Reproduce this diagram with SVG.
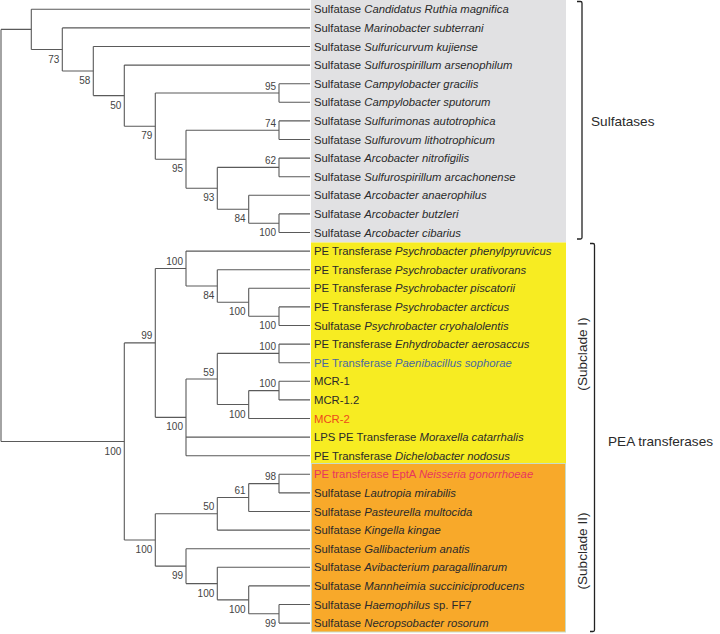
<svg xmlns="http://www.w3.org/2000/svg" width="720" height="634" viewBox="0 0 720 634">
<style>
.t{stroke:#5a5a5a;stroke-width:1.1;fill:none}
.lf{font-family:"Liberation Sans",Arial,sans-serif;font-size:11.3px;fill:#2a2a2a}
.i{font-style:italic}
.bs{font-family:"Liberation Sans",Arial,sans-serif;font-size:10px;fill:#444;text-anchor:end}
.br{stroke:#222;stroke-width:1.3;fill:none}
.big{font-family:"Liberation Sans",Arial,sans-serif;font-size:13.6px;fill:#2a2a2a}
</style>
<rect width="720" height="634" fill="#fff"/>
<g id="backgrounds">
<rect x="311" y="0" width="255" height="242.5" fill="#e1e1e3"/>
<rect x="311" y="242.5" width="255" height="221" fill="#f7ec22"/>
<rect x="311.5" y="463.5" width="254" height="168.5" fill="#f8a92a" stroke="#c9dcc8" stroke-width="1"/>
</g>
<g id="connectors">
<!-- root -->
<path class="t" d="M1,29.4V441.45M1,29.4H31.3M1,441.45H124.3"/>
<!-- sulfatase clade -->
<path class="t" d="M31.3,9.3V49.5M31.3,9.3H310M31.3,49.5H62.3"/>
<path class="t" d="M62.3,27.9V71.05M62.3,27.9H310M62.3,71.05H93.3"/>
<path class="t" d="M93.3,46.5V95.6M93.3,46.5H310M93.3,95.6H124.3"/>
<path class="t" d="M124.3,65.1V126.2M124.3,65.1H310M124.3,126.2H155.3"/>
<path class="t" d="M155.3,93V159.3M155.3,93H279M155.3,159.3H186"/>
<path class="t" d="M279,83.7V102.3M279,83.7H310M279,102.3H310"/>
<path class="t" d="M186,130.2V188.3M186,130.2H279M186,188.3H217.3"/>
<path class="t" d="M279,120.9V139.5M279,120.9H310M279,139.5H310"/>
<path class="t" d="M217.3,167.4V209.25M217.3,167.4H279M217.3,209.25H248.7"/>
<path class="t" d="M279,158.1V176.7M279,158.1H310M279,176.7H310"/>
<path class="t" d="M248.7,195.3V223.2M248.7,195.3H310M248.7,223.2H279"/>
<path class="t" d="M279,213.9V232.5M279,213.9H310M279,232.5H310"/>
<!-- PEA clade -->
<path class="t" d="M124.3,342.9V540M124.3,342.9H155.3M124.3,540H155.3"/>
<path class="t" d="M155.3,268.5V417.35M155.3,268.5H186M155.3,417.35H186"/>
<path class="t" d="M186,251.1V286M186,251.1H310M186,286H217.3"/>
<path class="t" d="M217.3,269.7V302.25M217.3,269.7H310M217.3,302.25H248.7"/>
<path class="t" d="M248.7,288.3V316.2M248.7,288.3H310M248.7,316.2H279"/>
<path class="t" d="M279,306.9V325.5M279,306.9H310M279,325.5H310"/>
<path class="t" d="M186,379V455.7M186,379H217.3M186,437.1H310M186,455.7H310"/>
<path class="t" d="M217.3,353.4V404.55M217.3,353.4H279M217.3,404.55H248.7"/>
<path class="t" d="M279,344.1V362.7M279,344.1H310M279,362.7H310"/>
<path class="t" d="M248.7,390.6V418.5M248.7,390.6H279M248.7,418.5H310"/>
<path class="t" d="M279,381.3V399.9M279,381.3H310M279,399.9H310"/>
<path class="t" d="M155.3,513.8V566.15M155.3,513.8H217.3M155.3,566.15H186"/>
<path class="t" d="M217.3,497.55V530.1M217.3,497.55H248.7M217.3,530.1H310"/>
<path class="t" d="M248.7,483.6V511.5M248.7,483.6H279M248.7,511.5H310"/>
<path class="t" d="M279,474.3V492.9M279,474.3H310M279,492.9H310"/>
<path class="t" d="M186,548.7V583.6M186,548.7H310M186,583.6H217.3"/>
<path class="t" d="M217.3,567.3V599.85M217.3,567.3H310M217.3,599.85H248.7"/>
<path class="t" d="M248.7,585.9V613.8M248.7,585.9H310M248.7,613.8H279"/>
<path class="t" d="M279,604.5V623.1M279,604.5H310M279,623.1H310"/>
</g>
<g id="bootstrap">
<text class="bs" x="59.3" y="62.5">73</text>
<text class="bs" x="90.3" y="84">58</text>
<text class="bs" x="121.3" y="108.6">50</text>
<text class="bs" x="152.3" y="139.2">79</text>
<text class="bs" x="276" y="89.5">95</text>
<text class="bs" x="183" y="172.3">95</text>
<text class="bs" x="276" y="126.7">74</text>
<text class="bs" x="214.3" y="201.3">93</text>
<text class="bs" x="276" y="163.9">62</text>
<text class="bs" x="245.7" y="222.25">84</text>
<text class="bs" x="276" y="236.2">100</text>
<text class="bs" x="121.3" y="454.5">100</text>
<text class="bs" x="152.3" y="339.4">99</text>
<text class="bs" x="183" y="265">100</text>
<text class="bs" x="214.3" y="299">84</text>
<text class="bs" x="245.7" y="315.25">100</text>
<text class="bs" x="276" y="329.2">100</text>
<text class="bs" x="183" y="430.35">100</text>
<text class="bs" x="214.3" y="375.5">59</text>
<text class="bs" x="276" y="349.9">100</text>
<text class="bs" x="245.7" y="417.55">100</text>
<text class="bs" x="276" y="387.1">100</text>
<text class="bs" x="152.3" y="553">100</text>
<text class="bs" x="214.3" y="510.3">50</text>
<text class="bs" x="245.7" y="494">61</text>
<text class="bs" x="276" y="480.1">98</text>
<text class="bs" x="183" y="579.15">99</text>
<text class="bs" x="214.3" y="596.6">100</text>
<text class="bs" x="245.7" y="612.85">100</text>
<text class="bs" x="276" y="626.8">99</text>
</g>
<g id="leaf0"><text class="lf" x="314" y="13.3">Sulfatase <tspan class="i">Candidatus Ruthia magnifica</tspan></text></g>
<g id="leaf1"><text class="lf" x="314" y="31.9">Sulfatase <tspan class="i">Marinobacter subterrani</tspan></text></g>
<g id="leaf2"><text class="lf" x="314" y="50.5">Sulfatase <tspan class="i">Sulfuricurvum kujiense</tspan></text></g>
<g id="leaf3"><text class="lf" x="314" y="69.1">Sulfatase <tspan class="i">Sulfurospirillum arsenophilum</tspan></text></g>
<g id="leaf4"><text class="lf" x="314" y="87.7">Sulfatase <tspan class="i">Campylobacter gracilis</tspan></text></g>
<g id="leaf5"><text class="lf" x="314" y="106.3">Sulfatase <tspan class="i">Campylobacter sputorum</tspan></text></g>
<g id="leaf6"><text class="lf" x="314" y="124.9">Sulfatase <tspan class="i">Sulfurimonas autotrophica</tspan></text></g>
<g id="leaf7"><text class="lf" x="314" y="143.5">Sulfatase <tspan class="i">Sulfurovum lithotrophicum</tspan></text></g>
<g id="leaf8"><text class="lf" x="314" y="162.1">Sulfatase <tspan class="i">Arcobacter nitrofigilis</tspan></text></g>
<g id="leaf9"><text class="lf" x="314" y="180.7">Sulfatase <tspan class="i">Sulfurospirillum arcachonense</tspan></text></g>
<g id="leaf10"><text class="lf" x="314" y="199.3">Sulfatase <tspan class="i">Arcobacter anaerophilus</tspan></text></g>
<g id="leaf11"><text class="lf" x="314" y="217.9">Sulfatase <tspan class="i">Arcobacter butzleri</tspan></text></g>
<g id="leaf12"><text class="lf" x="314" y="236.5">Sulfatase <tspan class="i">Arcobacter cibarius</tspan></text></g>
<g id="leaf13"><text class="lf" x="314" y="255.1">PE Transferase <tspan class="i">Psychrobacter phenylpyruvicus</tspan></text></g>
<g id="leaf14"><text class="lf" x="314" y="273.7">PE Transferase <tspan class="i">Psychrobacter urativorans</tspan></text></g>
<g id="leaf15"><text class="lf" x="314" y="292.3">PE Transferase <tspan class="i">Psychrobacter piscatorii</tspan></text></g>
<g id="leaf16"><text class="lf" x="314" y="310.9">PE Transferase <tspan class="i">Psychrobacter arcticus</tspan></text></g>
<g id="leaf17"><text class="lf" x="314" y="329.5">Sulfatase <tspan class="i">Psychrobacter cryohalolentis</tspan></text></g>
<g id="leaf18"><text class="lf" x="314" y="348.1">PE Transferase <tspan class="i">Enhydrobacter aerosaccus</tspan></text></g>
<g id="leaf19"><text class="lf" x="314" y="366.7" style="fill:#4a68a0">PE Transferase <tspan class="i">Paenibacillus sophorae</tspan></text></g>
<g id="leaf20"><text class="lf" x="314" y="385.3">MCR-1</text></g>
<g id="leaf21"><text class="lf" x="314" y="403.9">MCR-1.2</text></g>
<g id="leaf22"><text class="lf" x="314" y="422.5" style="fill:#ee4a1c">MCR-2</text></g>
<g id="leaf23"><text class="lf" x="314" y="441.1">LPS PE Transferase <tspan class="i">Moraxella catarrhalis</tspan></text></g>
<g id="leaf24"><text class="lf" x="314" y="459.7">PE Transferase <tspan class="i">Dichelobacter nodosus</tspan></text></g>
<g id="leaf25"><text class="lf" x="314" y="478.3" style="fill:#e8365e">PE transferase EptA <tspan class="i">Neisseria gonorrhoeae</tspan></text></g>
<g id="leaf26"><text class="lf" x="314" y="496.9">Sulfatase <tspan class="i">Lautropia mirabilis</tspan></text></g>
<g id="leaf27"><text class="lf" x="314" y="515.5">Sulfatase <tspan class="i">Pasteurella multocida</tspan></text></g>
<g id="leaf28"><text class="lf" x="314" y="534.1">Sulfatase <tspan class="i">Kingella kingae</tspan></text></g>
<g id="leaf29"><text class="lf" x="314" y="552.7">Sulfatase <tspan class="i">Gallibacterium anatis</tspan></text></g>
<g id="leaf30"><text class="lf" x="314" y="571.3">Sulfatase <tspan class="i">Avibacterium paragallinarum</tspan></text></g>
<g id="leaf31"><text class="lf" x="314" y="589.9">Sulfatase <tspan class="i">Mannheimia succiniciproducens</tspan></text></g>
<g id="leaf32"><text class="lf" x="314" y="608.5">Sulfatase <tspan class="i">Haemophilus</tspan> sp. FF7</text></g>
<g id="leaf33"><text class="lf" x="314" y="627.1">Sulfatase <tspan class="i">Necropsobacter rosorum</tspan></text></g>
<g id="group-sulfatases">
<path class="br" d="M577,1.5H580.5Q582,1.5 582,3V237.5Q582,239 580.5,239H577"/>
<text class="big" x="591" y="126">Sulfatases</text>
</g>
<g id="group-pea">
<path class="br" d="M590,243.5H593Q594.5,243.5 594.5,245V630Q594.5,631.5 593,631.5H590"/>
<text class="big" x="608" y="446">PEA transferases</text>
<text class="big" text-anchor="middle" transform="translate(586.5,354) rotate(-90)">(Subclade I)</text>
<text class="big" text-anchor="middle" transform="translate(586.5,551) rotate(-90)">(Subclade II)</text>
</g>
</svg>
